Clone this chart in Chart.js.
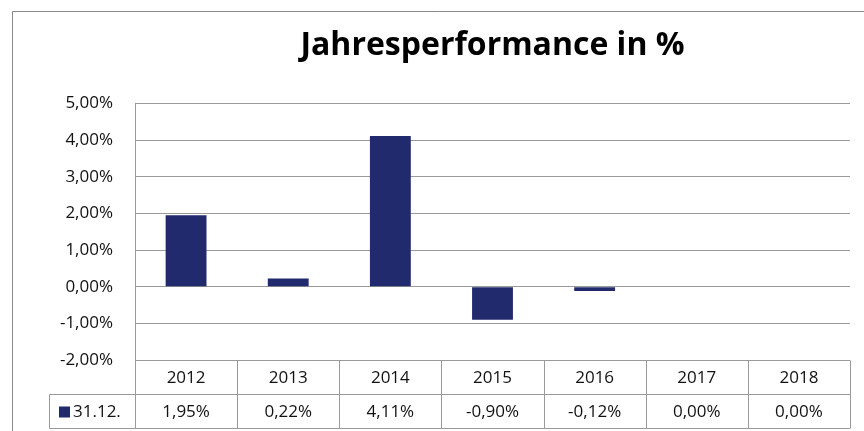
<!DOCTYPE html>
<html>
<head>
<meta charset="utf-8">
<script src="https://cdn.jsdelivr.net/npm/chart.js@4"></script>
<style>
  body { margin: 0; background: #fff; }
  #wrap { width: 864px; height: 431px; }
</style>
</head>
<body>
<div id="wrap"><canvas id="perf"></canvas></div>
<script>
var years = ["2012", "2013", "2014", "2015", "2016", "2017", "2018"];
var performance = [1.95, 0.22, 4.11, -0.90, -0.12, 0.00, 0.00];
var seriesName = "31.12.";
var titleText = "Jahresperformance in %";

var barColor = "#202a6c";
var lineColor = "#9a9a9a";
var fontName = "'Open Sans', Lato, sans-serif";

function pct(v) {
  return v.toFixed(2).replace(".", ",") + "%";
}

// draws the outer frame and the data table under the plot
var tablePlugin = {
  id: "dataTable",
  beforeDraw: function (chart) {
    var c = chart.ctx;
    c.save();
    c.strokeStyle = "#8a8a8a";
    c.lineWidth = 1;
    c.beginPath();
    c.moveTo(12.5, chart.height);
    c.lineTo(12.5, 11.5);
    c.lineTo(chart.width, 11.5);
    c.stroke();
    c.restore();
  },
  afterDraw: function (chart) {
    var c = chart.ctx;
    var area = chart.chartArea;
    var x = chart.scales.x;
    var n = years.length;
    var w = (area.right - area.left) / n;
    var top = Math.round(area.bottom) + 0.5;
    var rowH = 34;
    var legLeft = 49.5;

    c.save();
    c.strokeStyle = lineColor;
    c.lineWidth = 1;
    c.beginPath();
    // horizontal lines
    c.moveTo(area.left, top);
    c.lineTo(area.right, top);
    c.moveTo(legLeft, top + rowH);
    c.lineTo(area.right, top + rowH);
    c.moveTo(legLeft, top + 2 * rowH);
    c.lineTo(area.right, top + 2 * rowH);
    // vertical lines
    for (var i = 0; i <= n; i++) {
      var xx = Math.round(area.left + i * w) + 0.5;
      c.moveTo(xx, top);
      c.lineTo(xx, top + 2 * rowH);
    }
    c.moveTo(legLeft, top + rowH);
    c.lineTo(legLeft, top + 2 * rowH);
    c.stroke();

    c.fillStyle = "#111";
    c.font = "17px " + fontName;
    c.textAlign = "center";
    c.textBaseline = "middle";
    for (var j = 0; j < n; j++) {
      var cx = x.getPixelForValue(j);
      c.fillText(years[j], cx, top + rowH / 2 + 1);
      c.fillText(pct(performance[j]), cx, top + rowH * 1.5 + 1);
    }

    // legend cell
    c.fillStyle = barColor;
    c.fillRect(59, top + rowH + 12, 11, 11);
    c.fillStyle = "#111";
    c.textAlign = "left";
    c.fillText(seriesName, 73, top + rowH * 1.5 + 1);
    c.restore();
  }
};

var ctx = document.getElementById("perf");

new Chart(ctx, {
  type: "bar",
  data: {
    labels: years,
    datasets: [
      {
        label: seriesName,
        data: performance,
        backgroundColor: barColor,
        borderWidth: 0,
        barPercentage: 0.4,
        categoryPercentage: 1.0
      }
    ]
  },
  options: {
    responsive: true,
    maintainAspectRatio: false,
    animation: false,
    layout: {
      padding: { top: 0, right: 14, bottom: 71, left: 0 }
    },
    plugins: {
      legend: { display: false },
      tooltip: { enabled: false },
      title: {
        display: true,
        fullSize: false,
        text: titleText,
        color: "#000",
        font: { family: fontName, size: 32, weight: "bold" },
        padding: { top: 27, bottom: 38 }
      }
    },
    scales: {
      x: {
        display: false
      },
      y: {
        min: -2,
        max: 5,
        afterFit: function (scale) {
          scale.width = 135;
        },
        ticks: {
          stepSize: 1,
          padding: 22,
          color: "#111",
          font: { family: fontName, size: 17 },
          callback: function (v) {
            return pct(v);
          }
        },
        grid: {
          color: lineColor,
          drawTicks: false
        },
        border: {
          color: lineColor
        }
      }
    }
  },
  plugins: [tablePlugin]
});
</script>
</body>
</html>
